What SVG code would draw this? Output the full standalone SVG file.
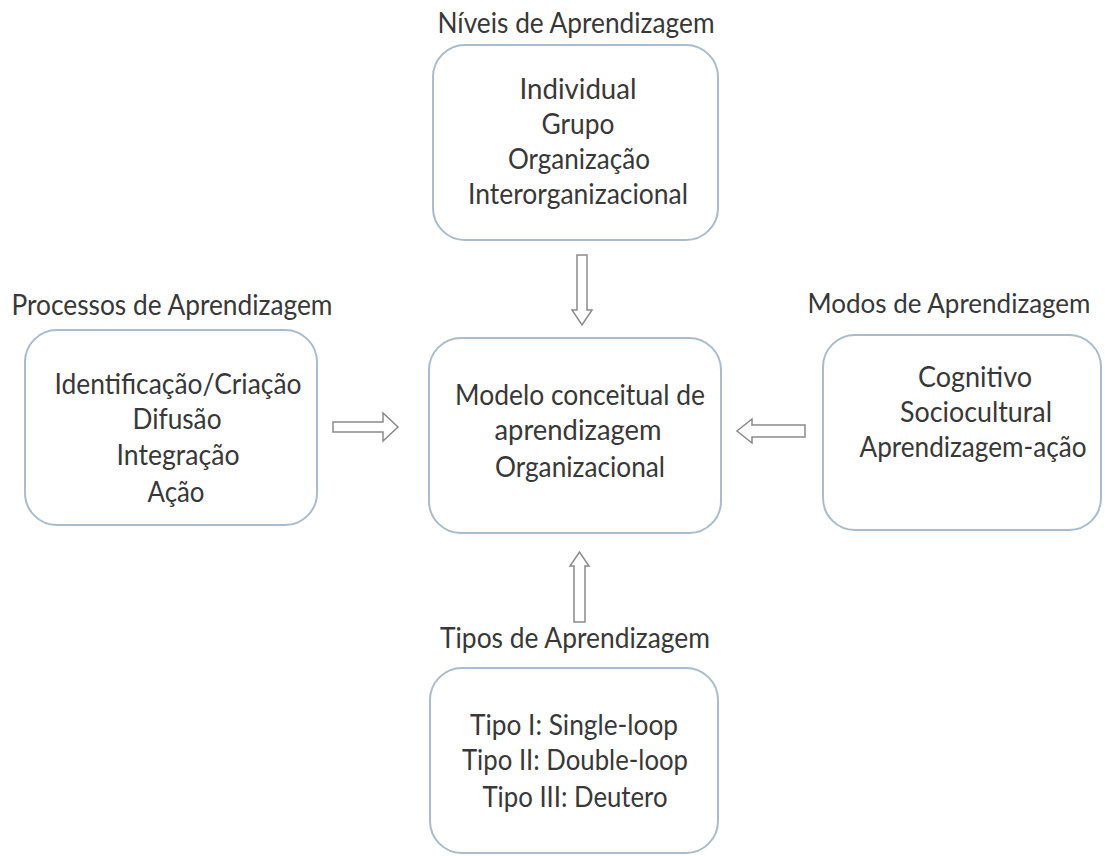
<svg xmlns="http://www.w3.org/2000/svg" width="1105" height="856" viewBox="0 0 1105 856">
<style>
.box{fill:#fff;stroke:#a9bccb;stroke-width:2}
.t{font-family:Lato,"Liberation Sans",sans-serif;font-size:28px;fill:#383838;text-anchor:middle}
.arr{fill:#fff;stroke:#8a8a8a;stroke-width:1.5}
</style>
<rect width="1105" height="856" fill="#fff"/>
<g id="niveis">
<text class="t" x="576" y="33" textLength="277" lengthAdjust="spacingAndGlyphs">Níveis de Aprendizagem</text>
<rect class="box" x="433" y="45" width="285" height="195" rx="32"/>
<text class="t" x="578" y="99" textLength="117" lengthAdjust="spacingAndGlyphs">Individual</text>
<text class="t" x="578" y="134" textLength="73" lengthAdjust="spacingAndGlyphs">Grupo</text>
<text class="t" x="579" y="169" textLength="142" lengthAdjust="spacingAndGlyphs">Organização</text>
<text class="t" x="578" y="204" textLength="220" lengthAdjust="spacingAndGlyphs">Interorganizacional</text>
</g>
<g id="processos">
<text class="t" x="172" y="315" textLength="321" lengthAdjust="spacingAndGlyphs">Processos de Aprendizagem</text>
<rect class="box" x="25" y="330" width="292" height="195" rx="32"/>
<text class="t" x="178" y="394" textLength="247" lengthAdjust="spacingAndGlyphs">Identificação/Criação</text>
<text class="t" x="177" y="429" textLength="89" lengthAdjust="spacingAndGlyphs">Difusão</text>
<text class="t" x="178" y="465" textLength="123" lengthAdjust="spacingAndGlyphs">Integração</text>
<text class="t" x="176" y="502" textLength="57" lengthAdjust="spacingAndGlyphs">Ação</text>
</g>
<g id="modelo">
<rect class="box" x="429" y="338" width="292" height="195" rx="32"/>
<text class="t" x="580" y="405" textLength="250" lengthAdjust="spacingAndGlyphs">Modelo conceitual de</text>
<text class="t" x="578" y="440" textLength="167" lengthAdjust="spacingAndGlyphs">aprendizagem</text>
<text class="t" x="580" y="477" textLength="170" lengthAdjust="spacingAndGlyphs">Organizacional</text>
</g>
<g id="modos">
<text class="t" x="949" y="313" font-size="26" style="font-size:26px" textLength="283" lengthAdjust="spacingAndGlyphs">Modos de Aprendizagem</text>
<rect class="box" x="823" y="335" width="278" height="195" rx="32"/>
<text class="t" x="975" y="387" textLength="114" lengthAdjust="spacingAndGlyphs">Cognitivo</text>
<text class="t" x="976" y="422" textLength="152" lengthAdjust="spacingAndGlyphs">Sociocultural</text>
<text class="t" x="973" y="457" textLength="227" lengthAdjust="spacingAndGlyphs">Aprendizagem-ação</text>
</g>
<g id="tipos">
<text class="t" x="575" y="648" textLength="270" lengthAdjust="spacingAndGlyphs">Tipos de Aprendizagem</text>
<rect class="box" x="430" y="668" width="288" height="185" rx="32"/>
<text class="t" x="574" y="735" textLength="208" lengthAdjust="spacingAndGlyphs">Tipo I: Single-loop</text>
<text class="t" x="575" y="770" textLength="226" lengthAdjust="spacingAndGlyphs">Tipo II: Double-loop</text>
<text class="t" x="575" y="807" textLength="185" lengthAdjust="spacingAndGlyphs">Tipo III: Deutero</text>
</g>
<g id="connectors">
<polygon class="arr" points="577,255 587,255 587,310 592,310 582,325 572,310 577,310"/>
<polygon class="arr" points="333,422 383,422 383,413 398,427 383,441 383,432 333,432"/>
<polygon class="arr" points="805,425 752,425 752,419 737,431 752,443 752,437 805,437"/>
<polygon class="arr" points="574,622 585,622 585,566 589,566 579.5,552 570,566 574,566"/>
</g>
</svg>
